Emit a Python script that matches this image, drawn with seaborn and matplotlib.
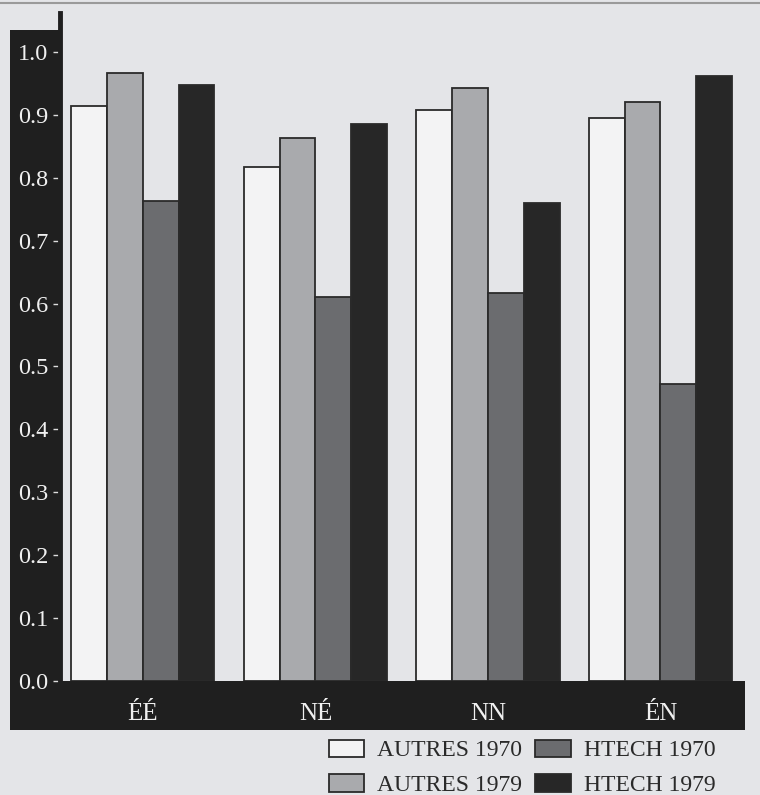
import matplotlib
matplotlib.use("Agg")
import matplotlib.pyplot as plt
import matplotlib.patches as mpatches
import seaborn as sns
import pandas as pd

categories = ["ÉÉ", "NÉ", "NN", "ÉN"]
series = ["AUTRES 1970", "AUTRES 1979", "HTECH 1970", "HTECH 1979"]
autres_1970 = [0.914, 0.817, 0.908, 0.895]
autres_1979 = [0.966, 0.863, 0.943, 0.920]
htech_1970 = [0.763, 0.610, 0.617, 0.472]
htech_1979 = [0.948, 0.885, 0.760, 0.962]
yticks = [0.0, 0.1, 0.2, 0.3, 0.4, 0.5, 0.6, 0.7, 0.8, 0.9, 1.0]

values = {"AUTRES 1970": autres_1970, "AUTRES 1979": autres_1979,
          "HTECH 1970": htech_1970, "HTECH 1979": htech_1979}
rows = []
for s in series:
    for c, v in zip(categories, values[s]):
        rows.append({"cat": c, "serie": s, "val": v})
df = pd.DataFrame(rows)

page = "#e4e5e8"
band = "#1f1f1f"
palette = {"AUTRES 1970": "#f3f3f4", "AUTRES 1979": "#a9aaad",
           "HTECH 1970": "#6b6c6f", "HTECH 1979": "#272727"}

sns.set_theme(style="white")
plt.rcParams["font.family"] = ["Liberation Serif", "DejaVu Serif"]

W, H = 760, 795
fig = plt.figure(figsize=(W / 100, H / 100), dpi=100, facecolor=page)

# dark frame band behind the axes
fig.patches.append(mpatches.Rectangle((10 / W, (H - 730) / H), 735 / W, 700 / H,
                                      transform=fig.transFigure, facecolor=band,
                                      edgecolor="none", zorder=-5))
# page edge line at the top
fig.add_artist(plt.Line2D([0, 1], [(H - 3) / H, (H - 3) / H], transform=fig.transFigure,
                          color="#9a9a9a", lw=1.5, zorder=-5))

ax = fig.add_axes([60 / W, (H - 681) / H, 685 / W, 668 / H])
ax.set_zorder(2)
ax.set_facecolor(page)

sns.barplot(data=df, x="cat", y="val", hue="serie", order=categories,
            hue_order=series, palette=palette, width=0.83, ax=ax,
            edgecolor="#2a2a2a", linewidth=1.3, saturation=1, errorbar=None)

ax.set_xlim(-0.48, 3.49)
ax.set_ylim(0, 1.062)
ax.set_yticks(yticks)
ax.set_yticklabels([f"{t:.1f}" for t in yticks], color="#f0f0f0", fontsize=17.5)
ax.tick_params(axis="y", left=True, length=5, width=1, color="#dddddd", pad=3.5)
ax.tick_params(axis="x", bottom=False, labelsize=18, labelcolor="#f0f0f0", pad=10)
ax.set_xlabel("")
ax.set_ylabel("")
for side in ["top", "right", "bottom"]:
    ax.spines[side].set_visible(False)
ax.spines["left"].set_color(band)
ax.spines["left"].set_linewidth(3.5)

handles, labels = ax.get_legend_handles_labels()
ax.get_legend().remove()
fig.legend(handles, labels, ncol=2, loc="upper left",
           bbox_to_anchor=(312 / W, (H - 723) / H), frameon=False,
           fontsize=17, handlelength=1.52, handleheight=0.76,
           handletextpad=0.55, columnspacing=0.55, labelspacing=0.55,
           borderpad=0.2, labelcolor="#2a2a2a")

fig.savefig("out.png", dpi=100, facecolor=page)
